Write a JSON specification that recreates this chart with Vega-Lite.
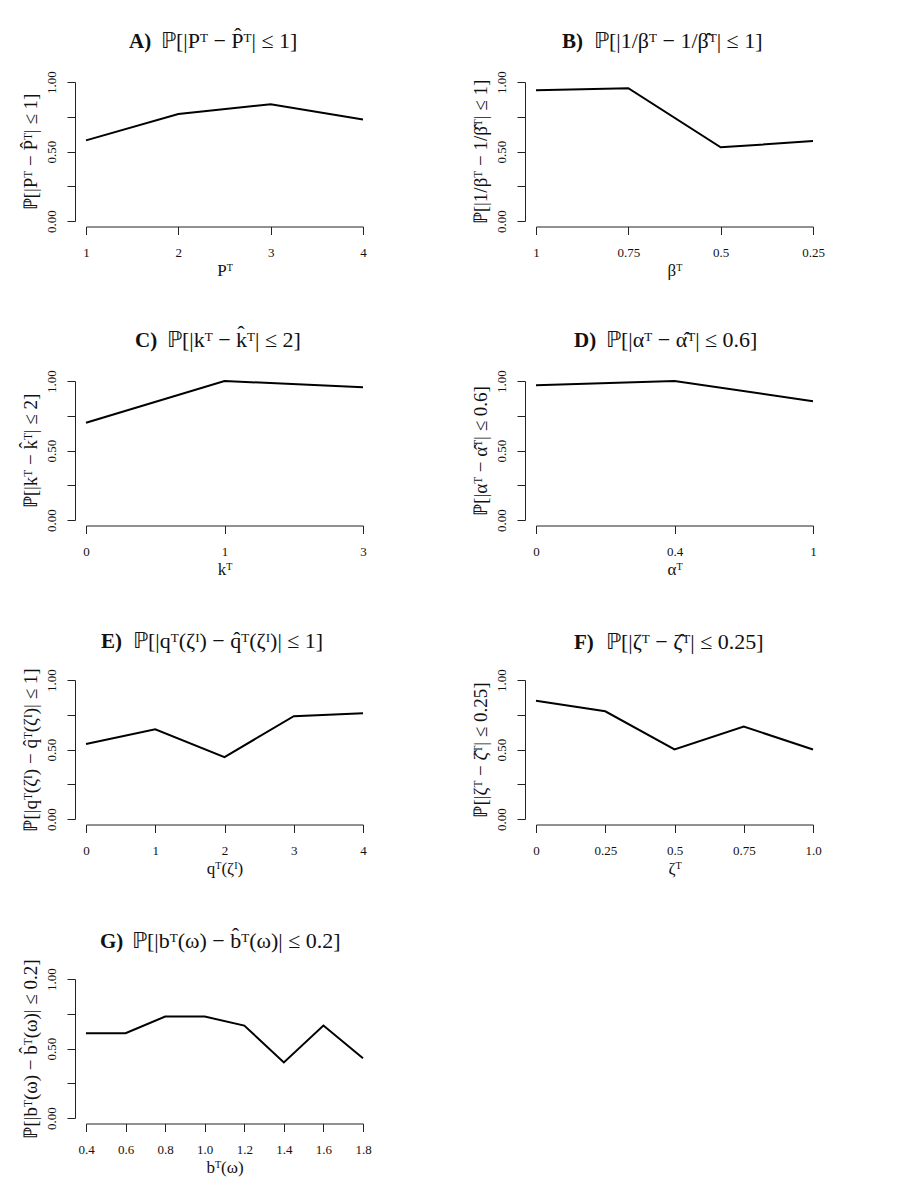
{
  "$schema": "https://vega.github.io/schema/vega-lite/v6.json",
  "background": "white",
  "padding": {"left": 21, "top": 29, "right": 10, "bottom": 10},
  "config": {
    "font": "Liberation Serif",
    "view": {"stroke": null},
    "axis": {"grid": false, "domainColor": "#222", "tickColor": "#222", "labelColor": "#111", "titleColor": "#111",
      "labelFont": "Liberation Serif", "titleFont": "Liberation Serif", "labelFontSize": 13, "titleFontSize": 17,
      "titleFontWeight": "normal", "tickSize": 8, "domainWidth": 1, "tickWidth": 1, "labelOverlap": false, "labelFlush": false},
    "axisX": {"offset": 5.5, "labelPadding": 12, "labelAngle": 0, "titlePadding": 3},
    "axisY": {"offset": 11, "labelAngle": -90, "labelPadding": 9, "titlePadding": 5, "titleFontSize": 19},
    "title": {"fontSize": 21, "fontWeight": "bold", "anchor": "start", "frame": "group", "font": "Liberation Serif", "color": "#111", "offset": 18,
      "lineHeight": 21, "subtitleFont": "Liberation Serif", "subtitleFontSize": 22, "subtitleLineHeight": 22, "subtitleFontWeight": "normal", "subtitleColor": "#111", "subtitlePadding": -21},
    "line": {"color": "black", "strokeWidth": 2}
  },
  "data": {"values": [
    {"panel": "A", "x": "1", "p": 0.58}, {"panel": "A", "x": "2", "p": 0.77}, {"panel": "A", "x": "3", "p": 0.84}, {"panel": "A", "x": "4", "p": 0.73},
    {"panel": "B", "x": "1", "p": 0.94}, {"panel": "B", "x": "0.75", "p": 0.955}, {"panel": "B", "x": "0.5", "p": 0.53}, {"panel": "B", "x": "0.25", "p": 0.575},
    {"panel": "C", "x": "0", "p": 0.70}, {"panel": "C", "x": "1", "p": 1.0}, {"panel": "C", "x": "3", "p": 0.955},
    {"panel": "D", "x": "0", "p": 0.97}, {"panel": "D", "x": "0.4", "p": 1.0}, {"panel": "D", "x": "1", "p": 0.855},
    {"panel": "E", "x": "0", "p": 0.54}, {"panel": "E", "x": "1", "p": 0.645}, {"panel": "E", "x": "2", "p": 0.445}, {"panel": "E", "x": "3", "p": 0.74}, {"panel": "E", "x": "4", "p": 0.76},
    {"panel": "F", "x": "0", "p": 0.85}, {"panel": "F", "x": "0.25", "p": 0.775}, {"panel": "F", "x": "0.5", "p": 0.5}, {"panel": "F", "x": "0.75", "p": 0.665}, {"panel": "F", "x": "1.0", "p": 0.5},
    {"panel": "G", "x": "0.4", "p": 0.61}, {"panel": "G", "x": "0.6", "p": 0.61}, {"panel": "G", "x": "0.8", "p": 0.73}, {"panel": "G", "x": "1.0", "p": 0.73}, {"panel": "G", "x": "1.2", "p": 0.665}, {"panel": "G", "x": "1.4", "p": 0.40}, {"panel": "G", "x": "1.6", "p": 0.665}, {"panel": "G", "x": "1.8", "p": 0.43}
  ]},
  "columns": 2,
  "spacing": {"row": 160, "column": 173},
  "bounds": "flush",
  "resolve": {"scale": {"x": "independent", "y": "independent"}},
  "concat": [
    {"title": {"text": "A)", "subtitle": "\u2800\u2800ℙ[|Pᵀ − P̂ᵀ| ≤ 1]", "dx": 43}, "width": 277, "height": 139,
     "transform": [{"filter": "datum.panel == 'A'"}], "mark": "line",
     "encoding": {
       "x": {"field": "x", "type": "ordinal", "sort": null, "scale": {"type": "point", "padding": 0}, "axis": {"title": "Pᵀ"}},
       "y": {"field": "p", "type": "quantitative", "scale": {"domain": [0, 1], "nice": false}, "axis": {"title": "ℙ[|Pᵀ − P̂ᵀ| ≤ 1]", "values": [0, 0.25, 0.5, 0.75, 1], "labelExpr": "datum.value == 0 ? '0.00' : datum.value == 0.5 ? '0.50' : datum.value == 1 ? '1.00' : ''"}}}},
    {"title": {"text": "B)", "subtitle": "\u2800\u2800ℙ[|1/βᵀ − 1/β̂ᵀ| ≤ 1]", "dx": 26}, "width": 277, "height": 139,
     "transform": [{"filter": "datum.panel == 'B'"}], "mark": "line",
     "encoding": {
       "x": {"field": "x", "type": "ordinal", "sort": null, "scale": {"type": "point", "padding": 0}, "axis": {"title": "βᵀ"}},
       "y": {"field": "p", "type": "quantitative", "scale": {"domain": [0, 1], "nice": false}, "axis": {"title": "ℙ[|1/βᵀ − 1/β̂ᵀ| ≤ 1]", "values": [0, 0.25, 0.5, 0.75, 1], "labelExpr": "datum.value == 0 ? '0.00' : datum.value == 0.5 ? '0.50' : datum.value == 1 ? '1.00' : ''"}}}},
    {"title": {"text": "C)", "subtitle": "\u2800\u2800ℙ[|kᵀ − k̂ᵀ| ≤ 2]", "dx": 49}, "width": 277, "height": 139,
     "transform": [{"filter": "datum.panel == 'C'"}], "mark": "line",
     "encoding": {
       "x": {"field": "x", "type": "ordinal", "sort": null, "scale": {"type": "point", "padding": 0}, "axis": {"title": "kᵀ"}},
       "y": {"field": "p", "type": "quantitative", "scale": {"domain": [0, 1], "nice": false}, "axis": {"title": "ℙ[|kᵀ − k̂ᵀ| ≤ 2]", "values": [0, 0.25, 0.5, 0.75, 1], "labelExpr": "datum.value == 0 ? '0.00' : datum.value == 0.5 ? '0.50' : datum.value == 1 ? '1.00' : ''"}}}},
    {"title": {"text": "D)", "subtitle": "\u2800\u2800ℙ[|αᵀ − α̂ᵀ| ≤ 0.6]", "dx": 38}, "width": 277, "height": 139,
     "transform": [{"filter": "datum.panel == 'D'"}], "mark": "line",
     "encoding": {
       "x": {"field": "x", "type": "ordinal", "sort": null, "scale": {"type": "point", "padding": 0}, "axis": {"title": "αᵀ"}},
       "y": {"field": "p", "type": "quantitative", "scale": {"domain": [0, 1], "nice": false}, "axis": {"title": "ℙ[|αᵀ − α̂ᵀ| ≤ 0.6]", "values": [0, 0.25, 0.5, 0.75, 1], "labelExpr": "datum.value == 0 ? '0.00' : datum.value == 0.5 ? '0.50' : datum.value == 1 ? '1.00' : ''"}}}},
    {"title": {"text": "E)", "subtitle": "\u2800\u2800ℙ[|qᵀ(ζᴵ) − q̂ᵀ(ζᴵ)| ≤ 1]", "dx": 15, "offset": 15}, "width": 277, "height": 139,
     "transform": [{"filter": "datum.panel == 'E'"}], "mark": "line",
     "encoding": {
       "x": {"field": "x", "type": "ordinal", "sort": null, "scale": {"type": "point", "padding": 0}, "axis": {"title": "qᵀ(ζᴵ)"}},
       "y": {"field": "p", "type": "quantitative", "scale": {"domain": [0, 1], "nice": false}, "axis": {"title": "ℙ[|qᵀ(ζᴵ) − q̂ᵀ(ζᴵ)| ≤ 1]", "values": [0, 0.25, 0.5, 0.75, 1], "labelExpr": "datum.value == 0 ? '0.00' : datum.value == 0.5 ? '0.50' : datum.value == 1 ? '1.00' : ''"}}}},
    {"title": {"text": "F)", "subtitle": "\u2800\u2800ℙ[|ζᵀ − ζ̂ᵀ| ≤ 0.25]", "dx": 38, "offset": 15}, "width": 277, "height": 139,
     "transform": [{"filter": "datum.panel == 'F'"}], "mark": "line",
     "encoding": {
       "x": {"field": "x", "type": "ordinal", "sort": null, "scale": {"type": "point", "padding": 0}, "axis": {"title": "ζᵀ"}},
       "y": {"field": "p", "type": "quantitative", "scale": {"domain": [0, 1], "nice": false}, "axis": {"title": "ℙ[|ζᵀ − ζ̂ᵀ| ≤ 0.25]", "values": [0, 0.25, 0.5, 0.75, 1], "labelExpr": "datum.value == 0 ? '0.00' : datum.value == 0.5 ? '0.50' : datum.value == 1 ? '1.00' : ''"}}}},
    {"title": {"text": "G)", "subtitle": "\u2800\u2800ℙ[|bᵀ(ω) − b̂ᵀ(ω)| ≤ 0.2]", "dx": 14, "offset": 6}, "width": 277, "height": 139,
     "transform": [{"filter": "datum.panel == 'G'"}], "mark": "line",
     "encoding": {
       "x": {"field": "x", "type": "ordinal", "sort": null, "scale": {"type": "point", "padding": 0}, "axis": {"title": "bᵀ(ω)"}},
       "y": {"field": "p", "type": "quantitative", "scale": {"domain": [0, 1], "nice": false}, "axis": {"title": "ℙ[|bᵀ(ω) − b̂ᵀ(ω)| ≤ 0.2]", "values": [0, 0.25, 0.5, 0.75, 1], "labelExpr": "datum.value == 0 ? '0.00' : datum.value == 0.5 ? '0.50' : datum.value == 1 ? '1.00' : ''"}}}}
  ]
}
